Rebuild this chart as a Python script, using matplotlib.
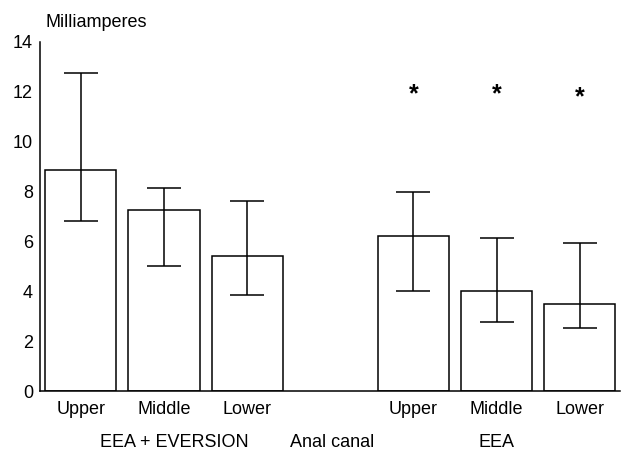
import numpy as np
import matplotlib.pyplot as plt

plt.rcParams['font.family'] = ['Liberation Sans', 'DejaVu Sans']

categories = ["Upper", "Middle", "Lower", "Upper", "Middle", "Lower"]
positions = [0, 1, 2, 4, 5, 6]
means = [8.88, 7.27, 5.42, 6.23, 4.02, 3.5]
err_low = [6.83, 5.02, 3.86, 4.02, 2.77, 2.53]
err_high = [12.77, 8.15, 7.63, 7.99, 6.14, 5.94]
star_pos = [4, 5, 6]
star_y = [12.0, 12.0, 11.9]
groups = ["EEA + EVERSION", "Anal canal", "EEA"]
group_x = [1.12, 3.02, 5.0]

fig = plt.figure(figsize=(6.26, 4.5), dpi=100)
ax = fig.add_axes([0.064, 0.131, 0.926, 0.776])

means = np.array(means)
yerr = [means - np.array(err_low), np.array(err_high) - means]
ax.bar(positions, means, width=0.855, color="white", edgecolor="black", linewidth=1.1)
ax.errorbar(positions, means, yerr=yerr, fmt="none", ecolor="black",
            elinewidth=1.1, capsize=12, capthick=1.1)

# asterisk glyph sits high in its box, nudge it down a little
for x, y in zip(star_pos, star_y):
    ax.text(x, y - 0.12, "*", ha="center", va="center", fontsize=18, fontweight="bold")

ax.set_xlim(-0.49, 6.48)
ax.set_ylim(0, 14)
ax.set_yticks(range(0, 15, 2))
ax.set_xticks(positions)
ax.set_xticklabels(categories)
ax.tick_params(axis="both", length=0, labelsize=13)
ax.tick_params(axis="y", pad=5)
ax.tick_params(axis="x", pad=7)
for s in ["top", "right"]:
    ax.spines[s].set_visible(False)
for s in ["left", "bottom"]:
    ax.spines[s].set_linewidth(1.1)

for x, g in zip(group_x, groups):
    ax.text(x, -2.05, g, ha="center", va="center", fontsize=13)

ax.text(0.009, 1.03, "Milliamperes", transform=ax.transAxes, ha="left", va="bottom", fontsize=13)

fig.savefig("out.png")
